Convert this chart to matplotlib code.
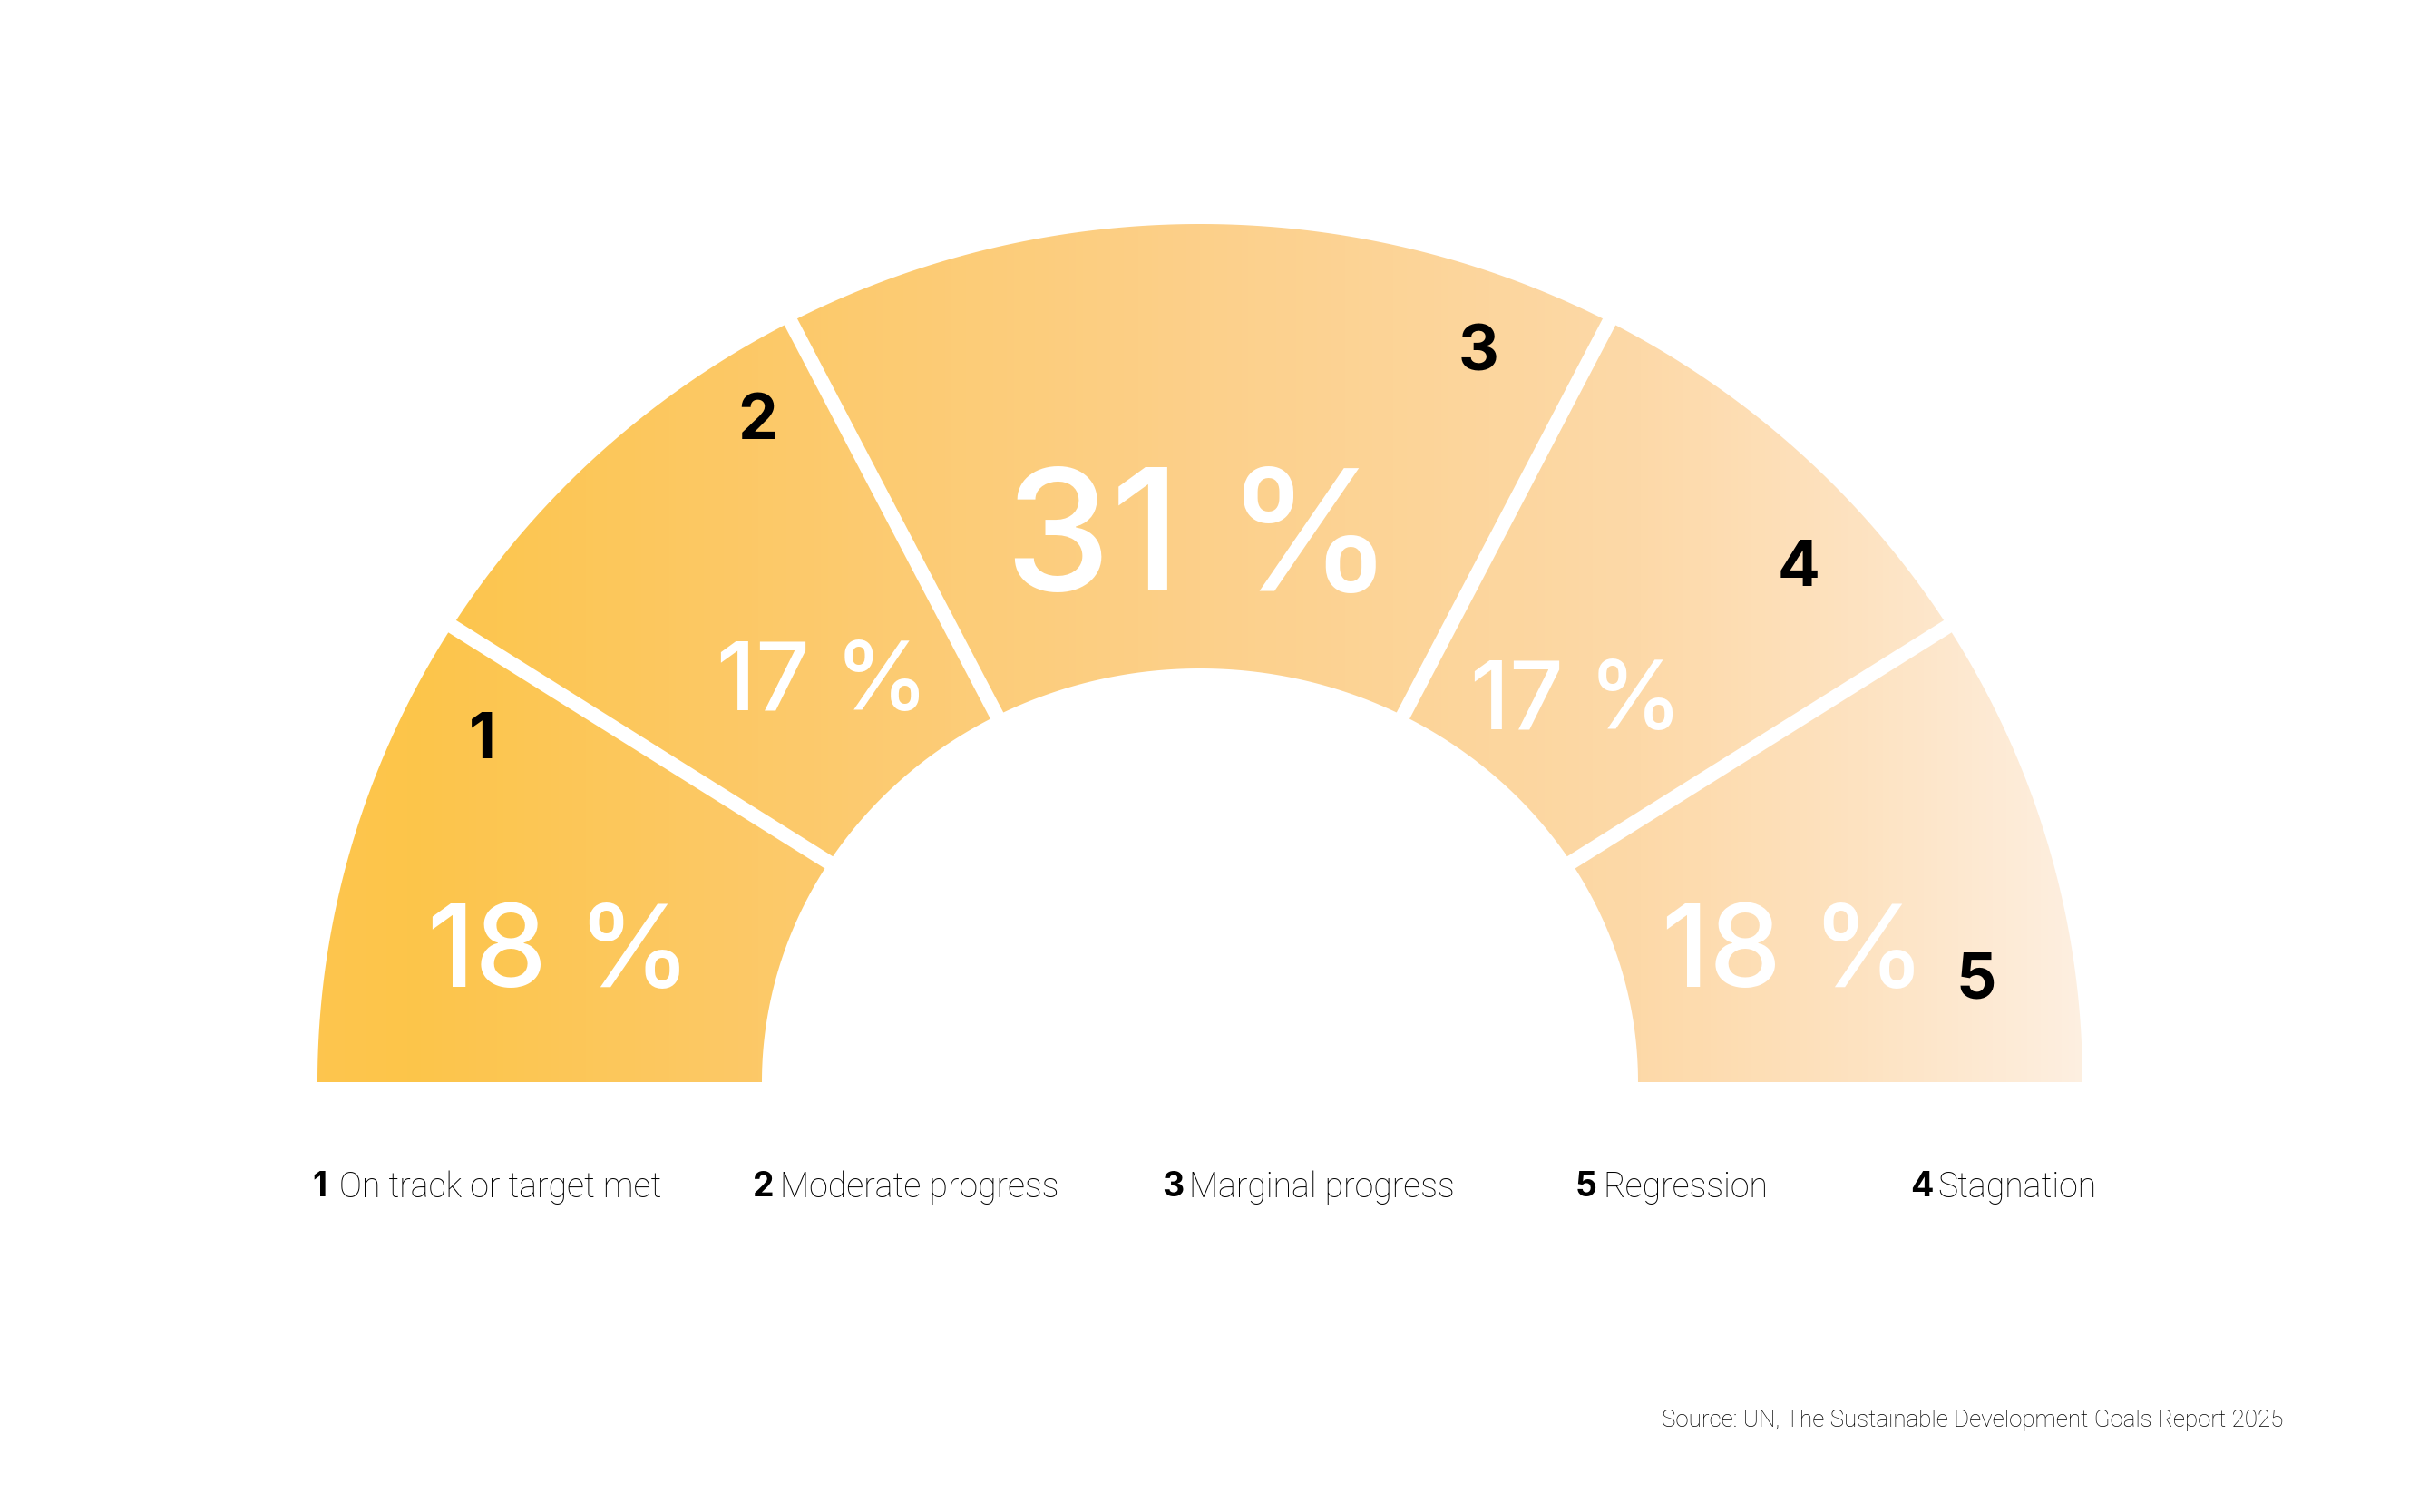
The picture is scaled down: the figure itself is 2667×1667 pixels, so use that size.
import numpy as np
import matplotlib
matplotlib.use("Agg")
import matplotlib.pyplot as plt
from matplotlib.colors import LinearSegmentedColormap
from matplotlib.patches import Polygon

# --- data ---
numbers = ["1", "2", "3", "4", "5"]
shares = [18, 17, 31, 17, 18]
share_labels = ["18 %", "17 %", "31 %", "17 %", "18 %"]
legend_numbers = ["1", "2", "3", "5", "4"]
legend_names = ["On track or target met", "Moderate progress", "Marginal progress",
                "Regression", "Stagnation"]
source = "Source: UN, The Sustainable Development Goals Report 2025"

# --- figure in pixel coordinates ---
W, H = 2667, 1667
fig = plt.figure(figsize=(W / 100, H / 100), dpi=100)
ax = fig.add_axes([0, 0, 1, 1])
ax.set_xlim(0, W)
ax.set_ylim(H, 0)
ax.axis("off")

cx, cy = 1323, 1193
out_a, out_b = 973, 946
in_a, in_b = 483, 456

# gradient left -> right
cmap = LinearSegmentedColormap.from_list("sdg", [
    (0.0, "#FDC54E"), (0.05, "#FDC54A"), (0.25, "#FCC968"), (0.5, "#FCD08A"),
    (0.75, "#FDD9A8"), (0.88, "#FDE3C2"), (1.0, "#FDEFE0")])

t = np.linspace(0, np.pi, 400)
outer = np.column_stack([cx - out_a * np.cos(t), cy - out_b * np.sin(t)])
inner = np.column_stack([cx - in_a * np.cos(t[::-1]), cy - in_b * np.sin(t[::-1])])
donut = Polygon(np.vstack([outer, inner]), closed=True, facecolor="none", edgecolor="none")
ax.add_patch(donut)

grad = np.linspace(0, 1, 512).reshape(1, -1)
im = ax.imshow(grad, cmap=cmap, aspect="auto",
               extent=[cx - out_a, cx + out_a, cy, cy - out_b], zorder=1)
im.set_clip_path(donut)
ax.set_xlim(0, W)
ax.set_ylim(H, 0)

# white separators between segments (angle measured from the left end)
bounds = np.cumsum(shares)[:-1] / sum(shares) * np.pi
for b in bounds:
    x0, y0 = cx - (in_a - 10) * np.cos(b), cy - (in_b - 10) * np.sin(b)
    x1, y1 = cx - (out_a + 10) * np.cos(b), cy - (out_b + 10) * np.sin(b)
    ax.plot([x0, x1], [y0, y1], color="white", lw=11.5, solid_capstyle="butt", zorder=2)

# labels (x centre, baseline y)
pct_pos = [(617, 1088), (907, 783), (1322, 651), (1738, 804), (1978, 1088)]
pct_size = [91, 75, 134, 75, 91]
num_pos = [(532, 836), (835, 484), (1630, 408), (1983, 646), (2179, 1100)]
for lab, (x, y), s in zip(share_labels, pct_pos, pct_size):
    ax.text(x, y, lab, color="white", fontsize=s, family="Inter", weight="medium",
            ha="center", va="baseline", zorder=3)
for lab, (x, y) in zip(numbers, num_pos):
    ax.text(x, y, lab, color="black", fontsize=50, family="Inter", weight="bold",
            ha="center", va="baseline", zorder=3)

# legend
leg_x = [344, 830, 1281, 1737, 2106]
for n, name, x in zip(legend_numbers, legend_names, leg_x):
    ax.text(x, 1309, n, fontsize=27, family="Inter", weight="bold", va="center", ha="left")
    ax.text(x + 30, 1309, name, fontsize=27, family="Roboto", weight="light",
            va="center", ha="left", color="black")

ax.text(2517, 1566, source, fontsize=18.7, family="Roboto", weight="light",
        ha="right", va="center", color="black")

fig.savefig("out.png", dpi=100, facecolor="white")
